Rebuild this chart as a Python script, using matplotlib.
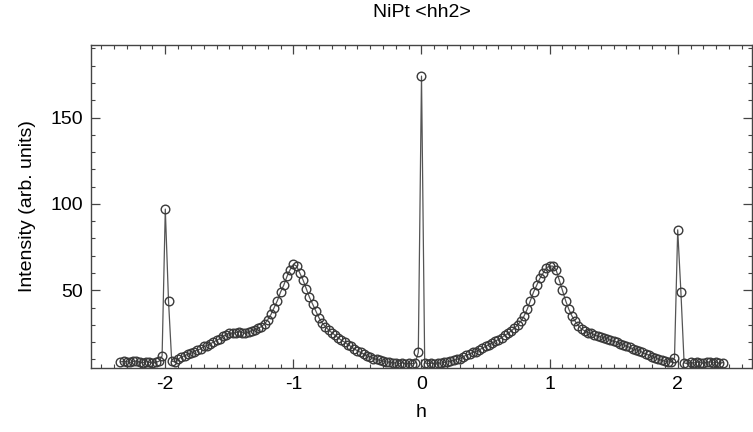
import numpy as np
import matplotlib
matplotlib.use("Agg")
import matplotlib.pyplot as plt
from matplotlib.ticker import MultipleLocator

plt.rcParams['font.family'] = ['Liberation Sans', 'DejaVu Sans']

# sampling grid in h (step 0.025 from -2.35 to 2.35)
h_start = -2.35
h_step = 0.025

intensity = [
    8.5, 9.0, 8.7, 8.2, 8.8, 9.1, 8.4, 8.0, 8.6, 8.3,          # -2.35 .. -2.125
    7.9, 8.5, 8.8, 12, 97, 44, 9, 8.5, 10, 11.5,              # -2.10 .. -1.875
    12, 13, 13.5, 14.5, 15.5, 16, 17.5, 18, 19, 20,           # -1.85 .. -1.625
    21, 22, 23.5, 24, 25.5, 25, 25.5, 26, 25.5, 25,           # -1.60 .. -1.375
    26, 26.5, 27, 28, 29, 30.5, 33, 36, 40, 44,               # -1.35 .. -1.125
    49, 53, 58, 62, 65, 64, 60, 56, 51, 46,                   # -1.10 .. -0.875
    42, 38, 34, 31, 29, 27, 25.5, 24, 22.5, 21,               # -0.85 .. -0.625
    20, 18.5, 17.5, 16, 15, 14, 13, 12, 11.5, 10.5,           # -0.60 .. -0.375
    10, 9.5, 9, 8.5, 8.5, 8, 8, 7.5, 8, 7.5,                  # -0.35 .. -0.125
    7.8, 7.5, 7.8, 14, 174, 8, 7.5, 7.8, 7.5, 8,              # -0.10 .. 0.125
    7.8, 8.2, 8.5, 9, 9.5, 10, 10.5, 11.5, 12.5, 13,          # 0.15 .. 0.375
    14, 14.5, 15.5, 16.5, 17.5, 18.5, 19.5, 20.5, 21.5, 22.5, # 0.40 .. 0.625
    24, 25, 26.5, 28, 30, 32, 35, 39, 44, 49,                 # 0.65 .. 0.875
    53, 57, 60, 63, 64, 64, 62, 56, 50, 44,                   # 0.90 .. 1.125
    39, 35, 32, 29.5, 27.5, 26.5, 25.5, 25, 24, 23.5,         # 1.15 .. 1.375
    23, 22.5, 22, 21, 20.5, 20, 19, 18.5, 17.5, 17,           # 1.40 .. 1.625
    16, 15.5, 15, 14, 13, 12.5, 11.5, 11, 10, 9.5,            # 1.65 .. 1.875
    9, 8.5, 8.5, 11, 85, 49, 8, 7.5, 8.2, 7.9,                # 1.90 .. 2.125
    8.4, 8.1, 7.8, 8.3, 8.6, 8.0, 8.2, 7.7, 8.1,              # 2.15 .. 2.35
]

h = np.round(h_start + h_step * np.arange(len(intensity)), 4)

title = "NiPt <hh2>"
xlabel = "h"
ylabel = "Intensity (arb. units)"
xticks = [-2, -1, 0, 1, 2]
yticks = [50, 100, 150]

W, H = 753, 432
fig = plt.figure(figsize=(W / 100, H / 100), dpi=100)
ax = fig.add_axes([91 / W, 1 - 368 / H, 661 / W, (368 - 45) / H])

ax.plot(h, intensity, color='#555555', lw=0.9,
        marker='o', markersize=6.2, markerfacecolor='none',
        markeredgecolor='#3a3a3a', markeredgewidth=1.0)

ax.set_xlim(-2.58, 2.58)
ax.set_ylim(5, 192)
ax.set_xticks(xticks)
ax.set_xticklabels([str(t) for t in xticks])
ax.set_yticks(yticks)
ax.xaxis.set_minor_locator(MultipleLocator(0.1))
ax.yaxis.set_minor_locator(MultipleLocator(10))
ax.tick_params(which='both', direction='in', top=True, right=True,
               color='#444444', labelsize=14)
ax.tick_params(which='major', length=6.5, width=0.9, pad=6)
ax.tick_params(which='minor', length=3, width=0.8)
for s in ax.spines.values():
    s.set_linewidth(1.0)
    s.set_color('#444444')

ax.set_title(title, fontsize=14, pad=20)
ax.set_xlabel(xlabel, fontsize=14, labelpad=8)
ax.set_ylabel(ylabel, fontsize=14, labelpad=10)

fig.savefig("out.png", dpi=100)
